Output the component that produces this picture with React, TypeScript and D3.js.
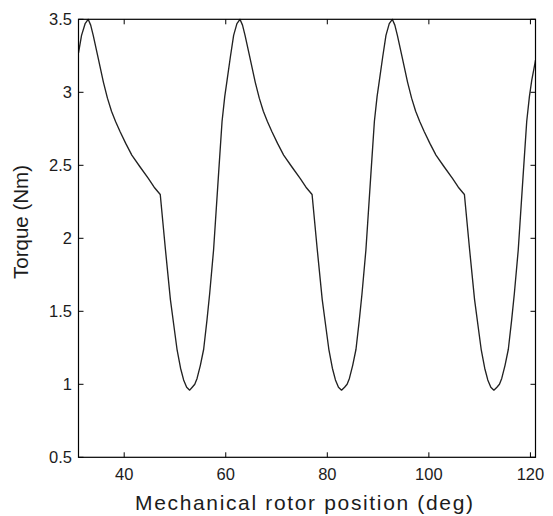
import React from "react";
import * as d3 from "d3";

const posDeg: number[] = [
  31.0, 31.6, 32.3, 32.9,
  33.4, 33.9, 34.9, 35.9, 36.7, 37.5, 38.3, 39.2, 40.3, 41.5, 43.1, 44.75, 45.9, 47.1,
  48.1, 49.1, 49.9, 50.4, 51.1, 51.7, 52.3, 52.9,
  53.4, 53.9, 54.35, 55.0, 55.65, 56.3, 56.83, 57.6, 57.94, 58.6, 59.27, 59.8, 60.25, 60.9, 61.55, 62.2, 62.8,
  63.3, 63.8, 64.8, 65.8, 66.6, 67.4, 68.2, 69.1, 70.2, 71.4, 73.0, 74.65, 75.8, 77.0,
  78.0, 79.0, 79.8, 80.3, 81.0, 81.6, 82.2, 82.8,
  83.4, 83.9, 84.35, 85.0, 85.65, 86.3, 86.83, 87.6, 87.94, 88.6, 89.27, 89.8, 90.25, 90.9, 91.55, 92.2, 92.8,
  93.3, 93.8, 94.8, 95.8, 96.6, 97.4, 98.2, 99.1, 100.2, 101.4, 103.0, 104.65, 105.8, 107.0,
  108.0, 109.0, 109.8, 110.3, 111.0, 111.6, 112.2, 112.8,
  113.4, 113.9, 114.35, 115.0, 115.65, 116.3, 116.83, 117.6, 117.94, 118.6, 119.27, 119.8, 120.25, 120.9, 121.0,
];

const torqueNm: number[] = [
  3.27, 3.39, 3.47, 3.5,
  3.46, 3.39, 3.23, 3.07, 2.96, 2.87, 2.8, 2.73, 2.65, 2.57, 2.49, 2.41, 2.35, 2.3,
  1.93, 1.58, 1.37, 1.24, 1.11, 1.03, 0.98, 0.96,
  0.98, 1.0, 1.04, 1.13, 1.24, 1.44, 1.62, 1.92, 2.1, 2.45, 2.8, 2.97, 3.08, 3.24, 3.39, 3.47, 3.5,
  3.46, 3.39, 3.23, 3.07, 2.96, 2.87, 2.8, 2.73, 2.65, 2.57, 2.49, 2.41, 2.35, 2.3,
  1.93, 1.58, 1.37, 1.24, 1.11, 1.03, 0.98, 0.96,
  0.98, 1.0, 1.04, 1.13, 1.24, 1.44, 1.62, 1.92, 2.1, 2.45, 2.8, 2.97, 3.08, 3.24, 3.39, 3.47, 3.5,
  3.46, 3.39, 3.23, 3.07, 2.96, 2.87, 2.8, 2.73, 2.65, 2.57, 2.49, 2.41, 2.35, 2.3,
  1.93, 1.58, 1.37, 1.24, 1.11, 1.03, 0.98, 0.96,
  0.98, 1.0, 1.04, 1.13, 1.24, 1.44, 1.62, 1.92, 2.1, 2.45, 2.8, 2.97, 3.08, 3.2, 3.22,
];

const xTicks: number[] = [40, 60, 80, 100, 120];
const yTicks: number[] = [0.5, 1, 1.5, 2, 2.5, 3, 3.5];
const yTickLabels: string[] = ["0.5", "1", "1.5", "2", "2.5", "3", "3.5"];

const W = 553;
const H = 516;
const L = 78.5;
const R = 535.5;
const T = 19.3;
const B = 457.3;
const FONT = "'Liberation Sans', Arial, Helvetica, sans-serif";
const TXT = "#1c1c1c";

export default function App() {
  const x = d3.scaleLinear().domain([31, 121]).range([L, R]);
  const y = d3.scaleLinear().domain([0.5, 3.5]).range([B, T]);
  const pts: [number, number][] = posDeg.map((d, i) => [d, torqueNm[i]]);
  const line = d3
    .line<[number, number]>()
    .x((d) => x(d[0]))
    .y((d) => y(d[1]));
  const tl = 5;
  return (
    <svg
      width={W}
      height={H}
      style={{ position: "absolute", left: 0, top: 0, background: "#fff" }}
      fontFamily={FONT}
    >
      <rect x={0} y={0} width={W} height={H} fill="#fff" />
      <defs>
        <clipPath id="plotclip">
          <rect x={L} y={T - 1} width={R - L} height={B - T + 2} />
        </clipPath>
      </defs>
      <path
        d={line(pts) || ""}
        fill="none"
        stroke="#222"
        strokeWidth={1.35}
        strokeLinejoin="round"
        clipPath="url(#plotclip)"
      />
      <rect x={L} y={T} width={R - L} height={B - T} fill="none" stroke="#000" strokeWidth={1.2} />
      {xTicks.map((t) => (
        <g key={"x" + t}>
          <line x1={x(t)} x2={x(t)} y1={B} y2={B - tl} stroke="#000" strokeWidth={1} />
          <line x1={x(t)} x2={x(t)} y1={T} y2={T + tl} stroke="#000" strokeWidth={1} />
          <text x={x(t)} y={480} fontSize={16.5} textAnchor="middle" fill={TXT}>
            {t}
          </text>
        </g>
      ))}
      {yTicks.map((t, i) => (
        <g key={"y" + t}>
          <line x1={L} x2={L + tl} y1={y(t)} y2={y(t)} stroke="#000" strokeWidth={1} />
          <line x1={R} x2={R - tl} y1={y(t)} y2={y(t)} stroke="#000" strokeWidth={1} />
          <text x={72} y={y(t) + 5.8} fontSize={16.5} textAnchor="end" fill={TXT}>
            {yTickLabels[i]}
          </text>
        </g>
      ))}
      <text
        x={304}
        y={510}
        fontSize={21}
        textAnchor="middle"
        fill={TXT}
        textLength={338}
        lengthAdjust="spacing"
      >
        Mechanical rotor position (deg)
      </text>
      <text
        transform={`translate(27.5, 222) rotate(-90)`}
        fontSize={20.5}
        textAnchor="middle"
        fill={TXT}
      >
        Torque (Nm)
      </text>
    </svg>
  );
}
